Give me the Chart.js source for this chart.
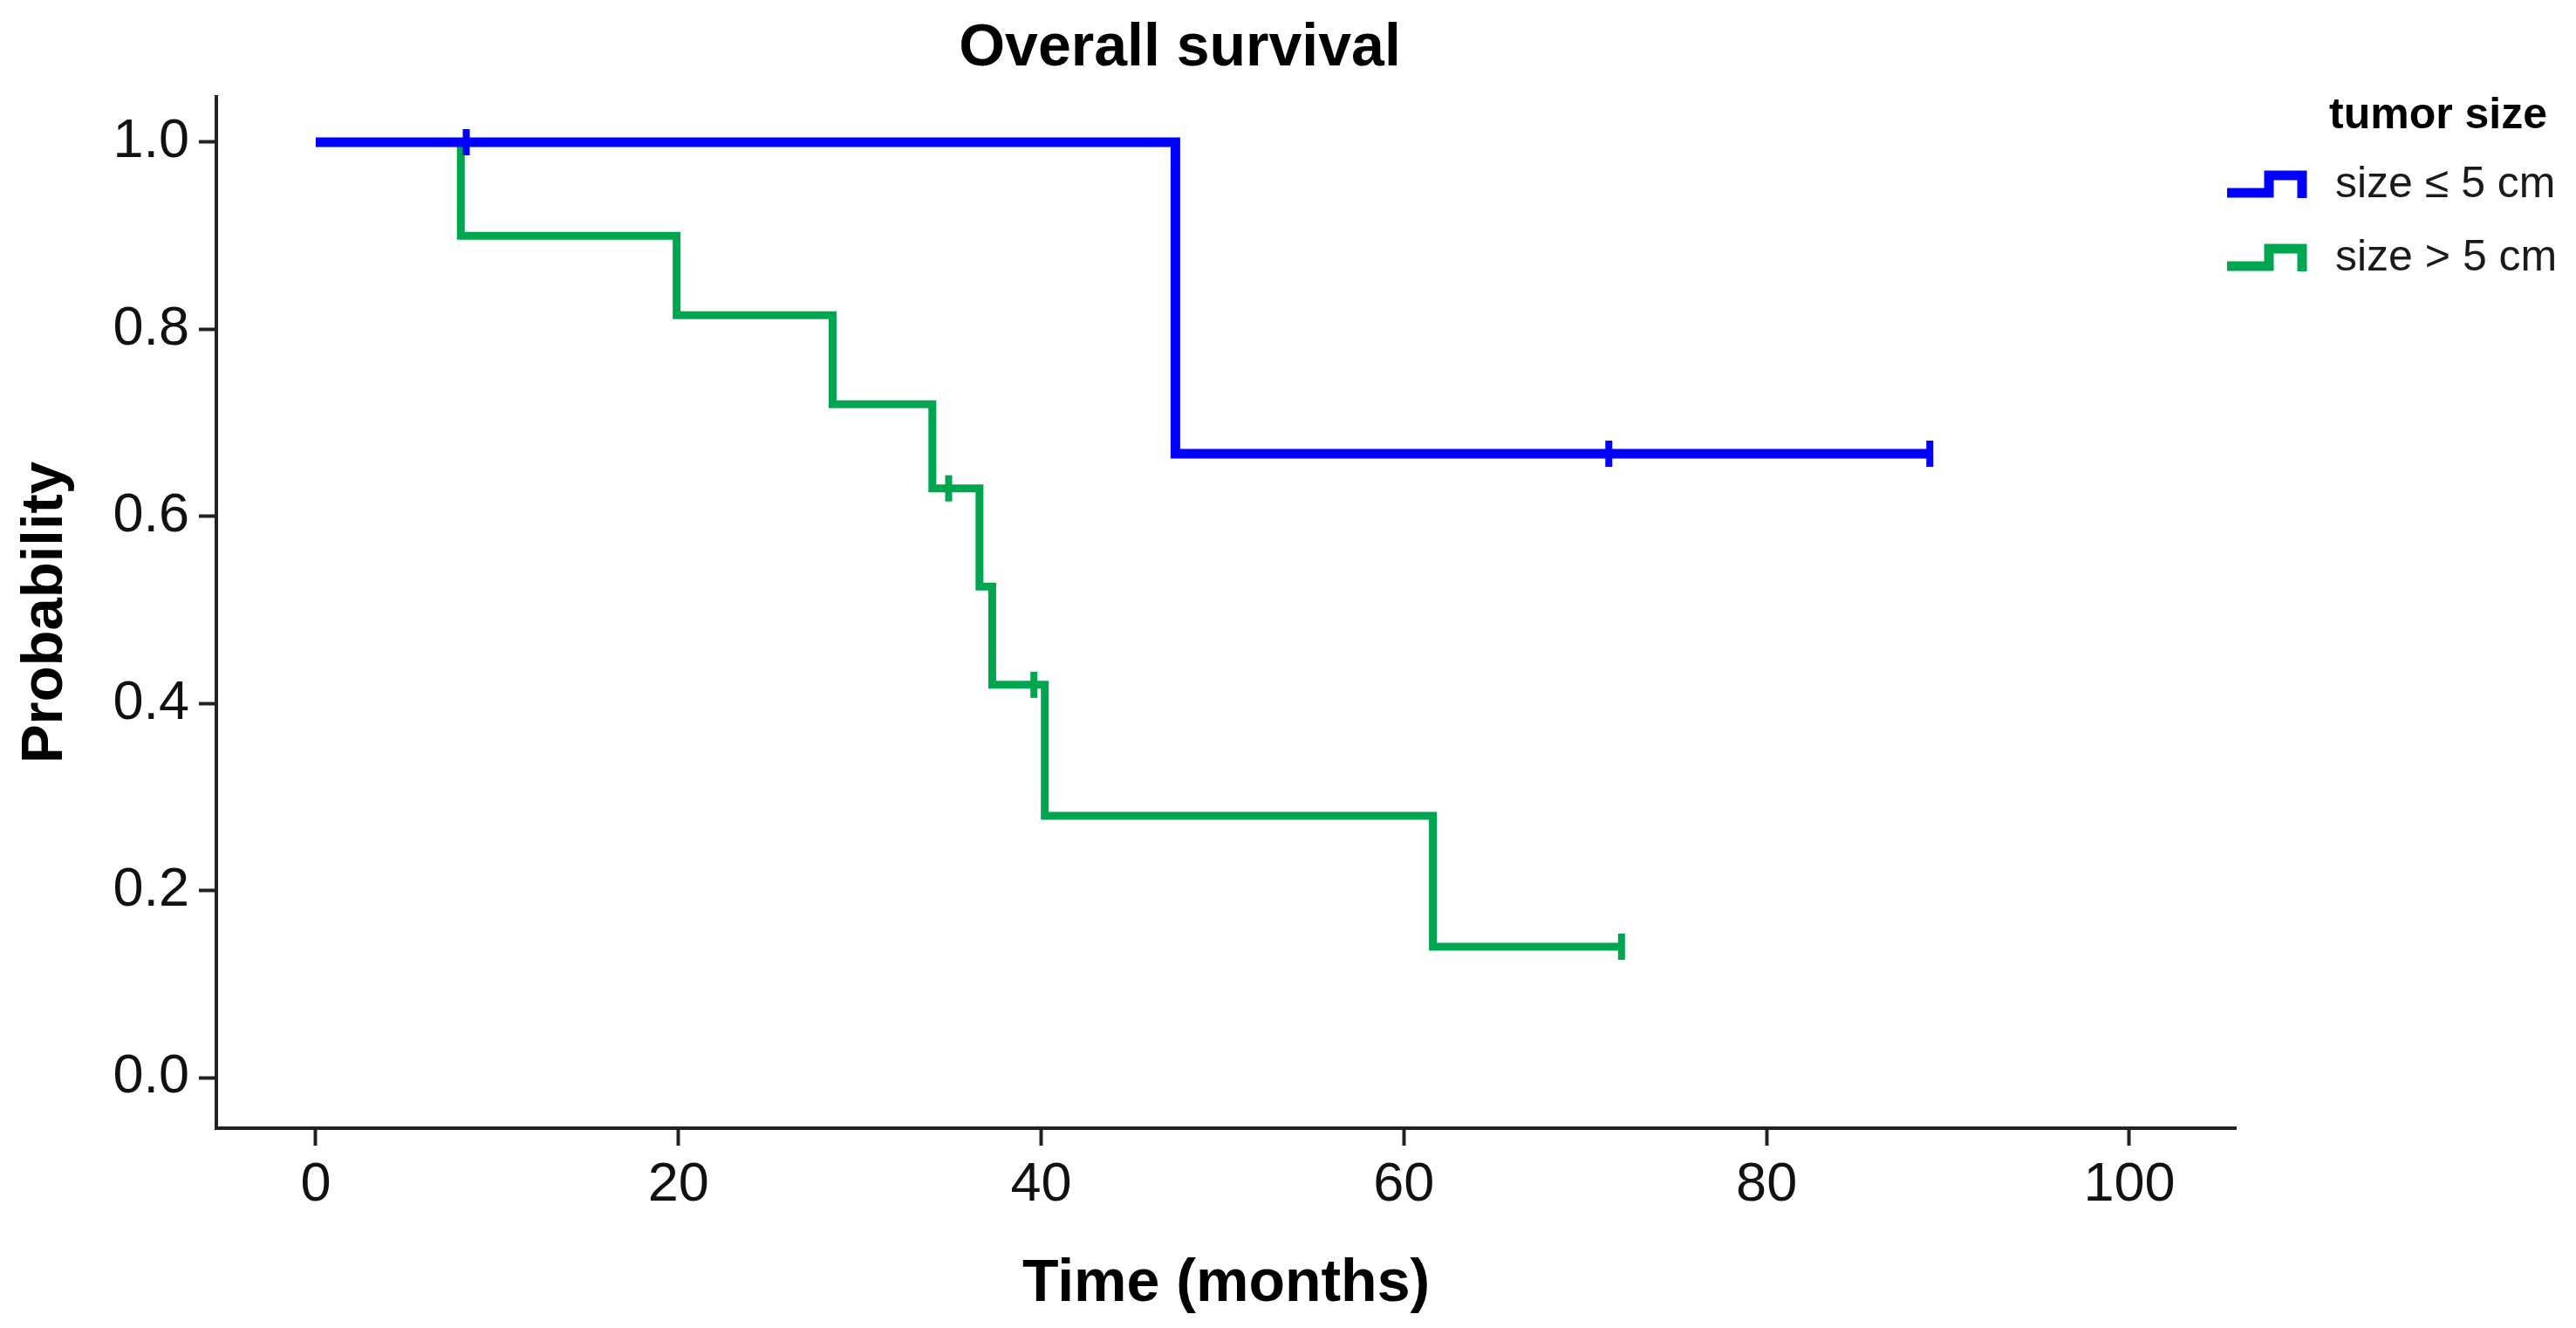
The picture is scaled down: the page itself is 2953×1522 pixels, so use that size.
<!DOCTYPE html>
<html>
<head>
<meta charset="utf-8">
<script src="https://cdn.jsdelivr.net/npm/chart.js@4.4.1/dist/chart.umd.min.js"></script>
<style>
  html, body { margin: 0; padding: 0; background: #fff; }
  #wrap { width: 2953px; height: 1522px; }
</style>
</head>
<body>
<div id="wrap"><canvas id="km" width="2953" height="1522"></canvas></div>
<script>
(function () {

  /* ---------- data ---------- */
  const chartTitle  = "Overall survival";
  const xTitle      = "Time (months)";
  const yTitle      = "Probability";
  const legendTitle = "tumor size";
  const groupNames  = ["size \u2264 5 cm", "size > 5 cm"];
  const groupColors = ["#0000FF", "#00A550"];

  const xTicks = [0, 20, 40, 60, 80, 100];
  const yTicks = [0.0, 0.2, 0.4, 0.6, 0.8, 1.0];

  // size <= 5 cm
  const smallTimes       = [0, 47.4, 89.0];
  const smallSurv        = [1.0, 0.667, 0.667];
  const smallCensorTimes = [8.3, 71.3, 89.0];
  const smallCensorSurv  = [1.0, 0.667, 0.667];

  // size > 5 cm
  const largeTimes       = [0, 8.0, 19.9, 28.5, 34.0, 36.6, 37.3, 40.2, 61.6, 72.0];
  const largeSurv        = [1.0, 0.9, 0.815, 0.72, 0.63, 0.525, 0.42, 0.28, 0.14, 0.14];
  const largeCensorTimes = [34.9, 39.6, 72.0];
  const largeCensorSurv  = [0.63, 0.42, 0.14];

  const FONT = '"Liberation Sans", Arial, Helvetica, sans-serif';
  const INK = "#222222";

  function pts(xs, ys) {
    return xs.map((x, i) => ({ x: x, y: ys[i] }));
  }

  function curve(label, xs, ys, color, width) {
    return {
      label: label,
      data: pts(xs, ys),
      stepped: "before",
      borderColor: color,
      borderWidth: width,
      borderCapStyle: "butt",
      borderJoinStyle: "miter",
      fill: false,
      pointRadius: 0,
      pointHoverRadius: 0
    };
  }

  function censors(label, xs, ys, color) {
    return {
      label: label,
      data: pts(xs, ys),
      showLine: false,
      pointStyle: "line",
      rotation: 90,
      pointRadius: 15,
      pointHoverRadius: 15,
      pointBorderWidth: 8,
      borderColor: color,
      backgroundColor: color
    };
  }

  /* title + legend drawn in the free space around the panel */
  const overlay = {
    id: "overlay",
    afterDraw(chart) {
      const ctx = chart.ctx;
      const area = chart.chartArea;
      ctx.save();
      ctx.fillStyle = "#000";
      ctx.textBaseline = "alphabetic";

      ctx.font = "bold 68px " + FONT;
      ctx.textAlign = "center";
      ctx.fillText(chartTitle, (area.left + area.right) / 2 - 53, 75);

      const lx = area.right - 10;
      ctx.textAlign = "left";
      ctx.font = "bold 50px " + FONT;
      ctx.fillText(legendTitle, lx + 117, 147);

      ctx.font = "50px " + FONT;
      const rowY = [221, 305];
      groupNames.forEach((name, i) => {
        const y = rowY[i];
        ctx.strokeStyle = groupColors[i];
        ctx.lineWidth = 11;
        ctx.lineCap = "butt";
        ctx.lineJoin = "miter";
        ctx.beginPath();
        ctx.moveTo(lx, y);
        ctx.lineTo(lx + 48, y);
        ctx.lineTo(lx + 48, y - 20);
        ctx.lineTo(lx + 86, y - 20);
        ctx.lineTo(lx + 86, y + 6);
        ctx.stroke();
        ctx.fillStyle = "#1a1a1a";
        ctx.fillText(name, lx + 124, y + 5);
      });
      ctx.restore();
    }
  };

  const ctx = document.getElementById("km").getContext("2d");

  new Chart(ctx, {
    type: "line",
    data: {
      datasets: [
        curve(groupNames[0], smallTimes, smallSurv, groupColors[0], 11),
        censors(groupNames[0] + " censored", smallCensorTimes, smallCensorSurv, groupColors[0]),
        curve(groupNames[1], largeTimes, largeSurv, groupColors[1], 9),
        censors(groupNames[1] + " censored", largeCensorTimes, largeCensorSurv, groupColors[1])
      ]
    },
    options: {
      responsive: false,
      animation: false,
      devicePixelRatio: 1,
      layout: { padding: { top: 111, right: 390, bottom: 0, left: 0 } },
      plugins: {
        legend: { display: false },
        title: { display: false },
        tooltip: { enabled: false }
      },
      scales: {
        x: {
          type: "linear",
          min: -5.48,
          max: 105.87,
          afterBuildTicks(scale) { scale.ticks = xTicks.map(v => ({ value: v })); },
          afterFit(scale) { scale.height = 229; },
          ticks: {
            color: "#111",
            font: { family: FONT, size: 63 },
            padding: 8,
            maxRotation: 0,
            callback: v => String(v)
          },
          grid: {
            drawOnChartArea: false,
            drawTicks: true,
            tickLength: 20,
            tickWidth: 4,
            tickColor: INK
          },
          border: { display: true, color: INK, width: 4 },
          title: {
            display: true,
            text: xTitle,
            color: "#000",
            font: { family: FONT, size: 68, weight: "bold" },
            padding: { top: 0, bottom: 9 }
          }
        },
        y: {
          type: "linear",
          min: -0.054,
          max: 1.0485,
          afterBuildTicks(scale) { scale.ticks = yTicks.map(v => ({ value: v })); },
          afterFit(scale) { scale.width = 248; },
          ticks: {
            color: "#111",
            font: { family: FONT, size: 63 },
            padding: 11,
            callback: v => Number(v).toFixed(1)
          },
          grid: {
            drawOnChartArea: false,
            drawTicks: true,
            tickLength: 20,
            tickWidth: 4,
            tickColor: INK
          },
          border: { display: true, color: INK, width: 4 },
          title: {
            display: true,
            text: yTitle,
            color: "#000",
            font: { family: FONT, size: 67, weight: "bold" },
            padding: { top: 12, bottom: 0 }
          }
        }
      }
    },
    plugins: [overlay]
  });

})();
</script>
</body>
</html>
